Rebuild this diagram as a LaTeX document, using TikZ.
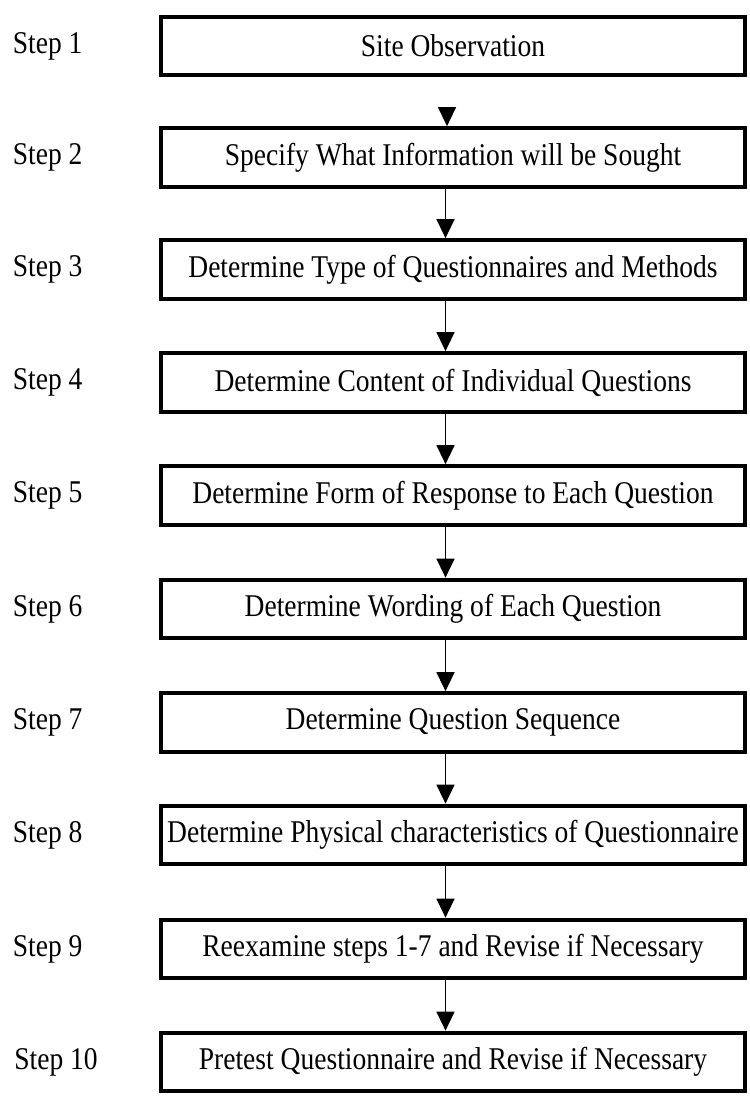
\documentclass[tikz,border=0pt]{standalone}
\usepackage{fontspec}
\setmainfont{Liberation Serif}[FakeStretch=0.87]
\usepackage{tikz}
\usetikzlibrary{arrows.meta}
\tikzset{
	stepbox/.style={draw, line width=2.4pt, minimum width=11.68cm, minimum height=1.17cm, inner xsep=0pt, font=\fontsize{18}{20}\selectfont},
	steplabel/.style={anchor=west, inner sep=0pt, font=\fontsize{18}{20}\selectfont},
	flow/.style={line width=0.8pt, -{Triangle[width=0.36cm,length=0.38cm]}}
}

\begin{document}
\begin{tikzpicture}
			%%%%% START %%%%%
			\useasboundingbox (0, 0) rectangle (14.98, -21.98);
			
			\node[stepbox] (site) at (9.06, -0.92) {Site Observation};
			\node[stepbox] (sought) at (9.06, -3.15) {Specify What Information will be Sought};
			\node[stepbox] (type) at (9.06, -5.39) {Determine Type of Questionnaires and Methods};
			\node[stepbox] (content) at (9.06, -7.65) {Determine Content of Individual Questions};
			\node[stepbox] (response) at (9.06, -9.91) {Determine Form of Response to Each Question};
			\node[stepbox] (wording) at (9.06, -12.18) {Determine Wording of Each Question};
			\node[stepbox] (sequence) at (9.06, -14.45) {Determine Question Sequence};
			\node[stepbox] (physical) at (9.06, -16.70) {Determine Physical characteristics of Questionnaire};
			\node[stepbox] (reexamine) at (9.06, -18.98) {Reexamine steps 1-7 and Revise if Necessary};
			\node[stepbox] (pretest) at (9.06, -21.24) {Pretest Questionnaire and Revise if Necessary};
			
			\node[steplabel] (lab1) at (0.25, -0.92) {Step 1};
			\node[steplabel] (lab2) at (0.25, -3.15) {Step 2};
			\node[steplabel] (lab3) at (0.25, -5.39) {Step 3};
			\node[steplabel] (lab4) at (0.25, -7.65) {Step 4};
			\node[steplabel] (lab5) at (0.25, -9.91) {Step 5};
			\node[steplabel] (lab6) at (0.25, -12.18) {Step 6};
			\node[steplabel] (lab7) at (0.25, -14.45) {Step 7};
			\node[steplabel] (lab8) at (0.25, -16.70) {Step 8};
			\node[steplabel] (lab9) at (0.25, -18.98) {Step 9};
			\node[steplabel] (lab10) at (0.28, -21.24) {Step 10};
			
			\draw[flow, shorten <=0.66cm] ([xshift=-0.12cm]site.south) -- ([xshift=-0.12cm]sought.north);
			\draw[flow] ([xshift=-0.15cm]sought.south) -- ([xshift=-0.15cm]type.north);
			\draw[flow] ([xshift=-0.15cm]type.south) -- ([xshift=-0.15cm]content.north);
			\draw[flow] ([xshift=-0.15cm]content.south) -- ([xshift=-0.15cm]response.north);
			\draw[flow] ([xshift=-0.15cm]response.south) -- ([xshift=-0.15cm]wording.north);
			\draw[flow] ([xshift=-0.15cm]wording.south) -- ([xshift=-0.15cm]sequence.north);
			\draw[flow] ([xshift=-0.15cm]sequence.south) -- ([xshift=-0.15cm]physical.north);
			\draw[flow] ([xshift=-0.15cm]physical.south) -- ([xshift=-0.15cm]reexamine.north);
			\draw[flow] ([xshift=-0.15cm]reexamine.south) -- ([xshift=-0.15cm]pretest.north);
			
			%%%%% END %%%%%
\end{tikzpicture}
\end{document}
